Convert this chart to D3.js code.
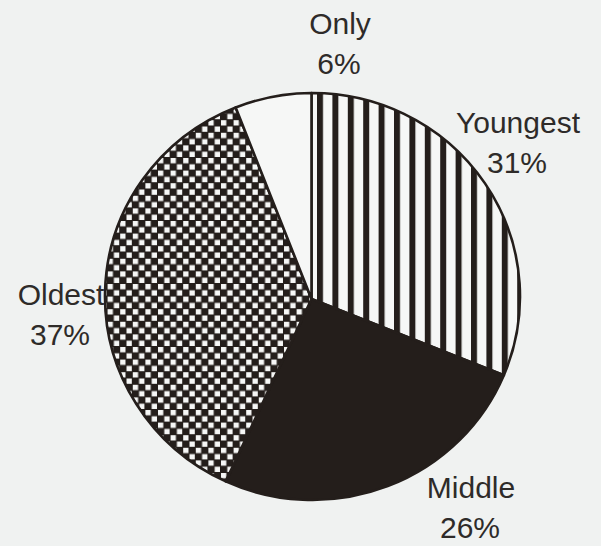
<!DOCTYPE html>
<html>
<head>
<meta charset="utf-8">
<script src="https://cdn.jsdelivr.net/npm/d3@7"></script>
<style>
  html, body { margin: 0; padding: 0; background: #f0f2f1; }
  svg { display: block; }
</style>
</head>
<body>
<svg id="chart" width="601" height="546"></svg>
<script>
// Data
const categories = ["Youngest", "Middle", "Oldest", "Only"];
const values = [31, 26, 37, 6];
const labels = ["31%", "26%", "37%", "6%"];

const W = 601, H = 546;
const svg = d3.select("#chart");
svg.append("rect").attr("width", W).attr("height", H).attr("fill", "#f0f2f1");

const ink = "#241e1b";
const paper = "#f6f7f6";

// outline ellipse (scanned pie is slightly distorted) and slice apex
const ecx = 312.5, ecy = 296.5, rx = 207.5, ry = 203.5;
const ax = 311.5, ay = 299;

const defs = svg.append("defs");
// vertical stripes
const sp = 15.4;
const stripe = defs.append("pattern")
  .attr("id", "stripes").attr("patternUnits", "userSpaceOnUse")
  .attr("width", sp).attr("height", 20).attr("x", 317);
stripe.append("rect").attr("width", sp).attr("height", 20).attr("fill", paper);
stripe.append("rect").attr("width", 6).attr("height", 20).attr("fill", ink);
// checkerboard
const cs = 6.3;
const check = defs.append("pattern")
  .attr("id", "checks").attr("patternUnits", "userSpaceOnUse")
  .attr("width", cs * 2).attr("height", cs * 2);
check.append("rect").attr("width", cs * 2).attr("height", cs * 2).attr("fill", ink);
check.append("rect").attr("x", 0.5).attr("y", 0.5).attr("width", cs - 1).attr("height", cs - 1).attr("fill", paper);
check.append("rect").attr("x", cs + 0.5).attr("y", cs + 0.5).attr("width", cs - 1).attr("height", cs - 1).attr("fill", paper);

const fills = {
  "Youngest": "url(#stripes)",
  "Middle": ink,
  "Oldest": "url(#checks)",
  "Only": paper
};

const pie = d3.pie().sort(null).value((d, i) => values[i]);
const arcs = pie(categories);

// intersect ray from apex at angle a (clockwise from 12 o'clock) with outline ellipse
function edgePoint(a) {
  const dx = Math.sin(a), dy = -Math.cos(a);
  const px = (ax - ecx) / rx, py = (ay - ecy) / ry;
  const qx = dx / rx, qy = dy / ry;
  const A = qx * qx + qy * qy, B = 2 * (px * qx + py * qy), C = px * px + py * py - 1;
  const t = (-B + Math.sqrt(B * B - 4 * A * C)) / (2 * A);
  return [ax + t * dx, ay + t * dy];
}
function slicePath(d) {
  const p0 = edgePoint(d.startAngle), p1 = edgePoint(d.endAngle);
  const large = (d.endAngle - d.startAngle) > Math.PI ? 1 : 0;
  return `M${ax},${ay}L${p0[0]},${p0[1]}A${rx},${ry} 0 ${large} 1 ${p1[0]},${p1[1]}Z`;
}

const g = svg.append("g");
g.selectAll("path.slice").data(arcs).join("path")
  .attr("class", "slice")
  .attr("d", slicePath)
  .attr("fill", d => fills[d.data])
  .attr("stroke", ink)
  .attr("stroke-width", 2.6)
  .attr("stroke-linejoin", "round");

// Labels
const labelPos = {
  "Only": [340, 34],
  "Youngest": [518, 133],
  "Oldest": [61, 305],
  "Middle": [471, 498]
};
const lt = svg.append("g")
  .attr("font-family", "'Liberation Sans', Arial, sans-serif")
  .attr("font-size", 30)
  .attr("fill", "#2e2b29")
  .attr("text-anchor", "middle");
categories.forEach((c, i) => {
  const [x, y] = labelPos[c];
  lt.append("text").attr("x", x).attr("y", y).text(c);
  lt.append("text").attr("x", x - 1).attr("y", y + 40).text(labels[i]);
});
</script>
</body>
</html>
